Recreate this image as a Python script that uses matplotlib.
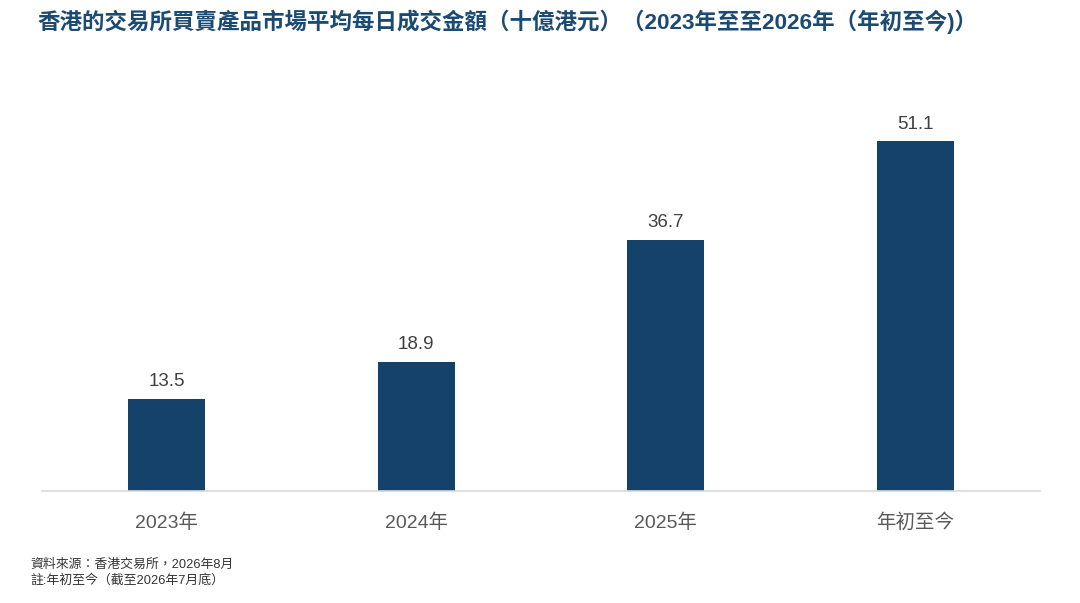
import matplotlib
matplotlib.use("Agg")
import matplotlib.pyplot as plt

FONTS = ["Liberation Sans", "Noto Sans CJK TC", "DejaVu Sans"]
plt.rcParams["font.family"] = FONTS

BAR = "#14426A"
TITLE_C = "#1B4A72"
TICK_C = "#595959"
VAL_C = "#404040"

categories = ["2023年", "2024年", "2025年", "年初至今"]
values = [13.5, 18.9, 36.7, 51.1]

fig = plt.figure(figsize=(10.8, 6.03), dpi=100)
ax = fig.add_axes([42/1080, 1-491/603, 998/1080, (491-80)/603])

x = range(len(categories))
bars = ax.bar(x, values, width=0.31, color=BAR, zorder=2)
for b, v in zip(bars, values):
    ax.annotate(f"{v:.1f}", (b.get_x() + b.get_width()/2, v), xytext=(0, 6),
                textcoords="offset points", ha="center", va="bottom",
                fontsize=13.5, color=VAL_C)

ax.set_xlim(-0.5, 3.5)
ax.set_ylim(0, 60)
ax.set_xticks(list(x))
ax.set_xticklabels(categories, fontsize=14, color=TICK_C)
ax.tick_params(axis="x", length=0, pad=16)
ax.set_yticks([])
for s in ["top", "right", "left"]:
    ax.spines[s].set_visible(False)
ax.spines["bottom"].set_color("#D9D9D9")
ax.spines["bottom"].set_linewidth(1.2)

fig.text(37/1080, 1-22/603,
         "香港的交易所買賣產品市場平均每日成交金額（十億港元）（2023年至至2026年（年初至今)）",
         fontsize=16.2, fontweight="bold", color=TITLE_C, ha="left", va="center")
fig.text(30/1080, 1-565/603, "資料來源：香港交易所，2026年8月",
         fontsize=9.3, color="#333333", ha="left", va="center")
fig.text(30/1080, 1-580/603, "註:年初至今（截至2026年7月底）",
         fontsize=9.3, color="#333333", ha="left", va="center")

fig.savefig("out.png", dpi=100)
